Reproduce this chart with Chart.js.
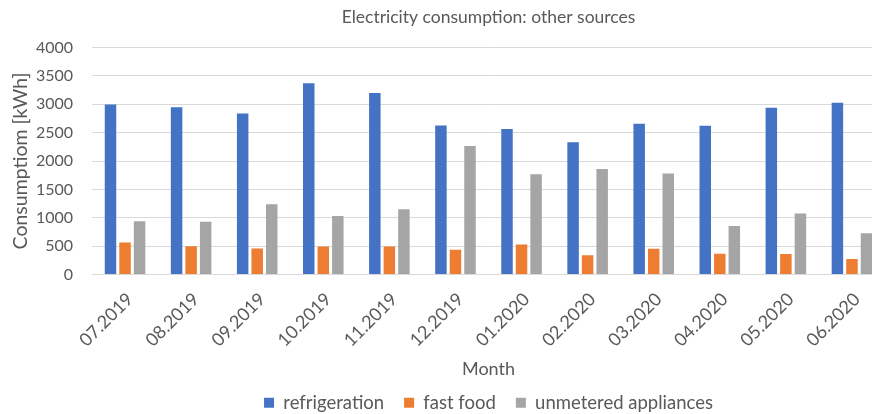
<!DOCTYPE html>
<html>
<head>
<meta charset="utf-8">
<script src="https://cdn.jsdelivr.net/npm/chart.js@4"></script>
<style>
  html, body { margin: 0; padding: 0; overflow: hidden; background: #fff; }
  #wrap { width: 895px; height: 414px; }
</style>
</head>
<body>
<div id="wrap"><canvas id="myChart" width="895" height="414"></canvas></div>
<script>
// datos
const months = ['07.2019', '08.2019', '09.2019', '10.2019', '11.2019', '12.2019',
                '01.2020', '02.2020', '03.2020', '04.2020', '05.2020', '06.2020'];
const refrigeration = [2995, 2945, 2835, 3370, 3200, 2625, 2565, 2330, 2655, 2620, 2940, 3025];
const fastFood = [565, 500, 460, 495, 495, 435, 530, 340, 455, 365, 360, 275];
const unmetered = [940, 930, 1240, 1030, 1150, 2265, 1765, 1860, 1780, 855, 1075, 725];
const yTicks = [0, 500, 1000, 1500, 2000, 2500, 3000, 3500, 4000];

const textColor = '#595959';
const fontFam = 'Lato, "Liberation Sans", sans-serif';

Chart.defaults.font.family = fontFam;
Chart.defaults.color = textColor;

var ctx = document.getElementById('myChart').getContext('2d');

function serie(label, data, color) {
    return {
        label: label,
        data: data,
        backgroundColor: color,
        borderWidth: 0,
        categoryPercentage: 0.66,
        barPercentage: 0.79
    };
}

window.myChart = new Chart(ctx, {
    type: 'bar',
    data: {
        labels: months,
        datasets: [
            serie('refrigeration', refrigeration, '#4472C4'),
            serie('fast food', fastFood, '#ED7D31'),
            serie('unmetered appliances', unmetered, '#A5A5A5')
        ]
    },
    options: {
        responsive: false,
        animation: false,
        layout: { padding: { left: 0, right: 10, top: 0, bottom: -8 } },
        plugins: {
            title: {
                display: true,
                fullSize: false,
                text: 'Electricity consumption: other sources',
                color: textColor,
                font: { size: 17.5, weight: 'normal' },
                padding: { top: 6.5, bottom: 20 }
            },
            legend: {
                position: 'bottom',
                fullSize: false,
                labels: {
                    boxWidth: 10,
                    boxHeight: 10,
                    padding: 20,
                    color: textColor,
                    font: { size: 18.5 }
                }
            },
            tooltip: { enabled: false }
        },
        scales: {
            x: {
                grid: { display: false, drawTicks: false },
                border: { display: true, color: '#D9D9D9', width: 1 },
                ticks: {
                    color: textColor,
                    font: { size: 18 },
                    maxRotation: 45,
                    minRotation: 45,
                    padding: 14,
                    labelOffset: 5
                },
                title: {
                    display: true,
                    text: 'Month',
                    color: textColor,
                    font: { size: 18 },
                    padding: { top: 4, bottom: -6 }
                },
                afterFit: function (scale) { scale.height = 99; }
            },
            y: {
                min: 0,
                max: 4000,
                afterBuildTicks: function (scale) {
                    scale.ticks = yTicks.map(v => ({ value: v }));
                },
                grid: { color: '#D9D9D9', lineWidth: 1, drawTicks: false },
                border: { display: false },
                ticks: {
                    color: textColor,
                    font: { size: 16 },
                    padding: 19,
                    callback: function (value) { return String(value); }
                },
                title: {
                    display: true,
                    text: 'Consumptiom [kWh]',
                    color: textColor,
                    font: { size: 19.5 },
                    padding: { top: 9, bottom: 0 }
                },
                afterFit: function (scale) { scale.width = 92; }
            }
        }
    }
});
</script>
</body>
</html>
